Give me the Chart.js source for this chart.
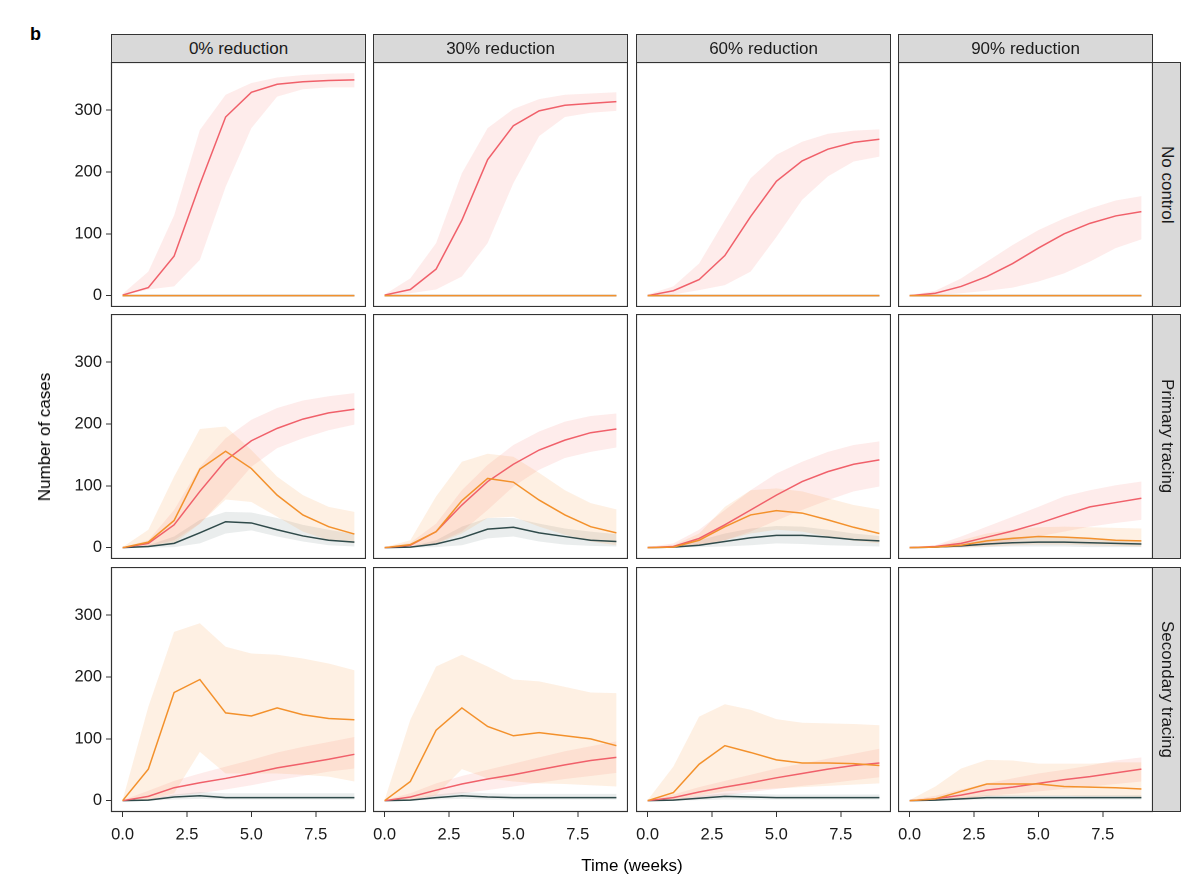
<!DOCTYPE html>
<html>
<head>
<meta charset="utf-8">
<script src="https://cdn.jsdelivr.net/npm/chart.js@4.4.1/dist/chart.umd.min.js"></script>
<style>
  body { margin: 0; background: #fff; font-family: "Liberation Sans", Arial, sans-serif; }
  #fig { position: relative; width: 1200px; height: 896px; overflow: hidden; }
  #fig canvas { position: absolute; }
  .strip { position: absolute; background: #d9d9d9; border: 1px solid #333; box-sizing: border-box;
           color: #1a1a1a; font-size: 17px; display: flex; align-items: center; justify-content: center; }
  .strip.side span { writing-mode: vertical-rl; }
  .lbl { position: absolute; color: #000; font-size: 17px; white-space: nowrap; }
</style>
</head>
<body>
<div id="fig"></div>
<script>
// facets
const colNames = ['0% reduction', '30% reduction', '60% reduction', '90% reduction']
const rowNames = ['No control', 'Primary tracing', 'Secondary tracing']
const weeks = [0, 1, 2, 3, 4, 5, 6, 7, 8, 9]
const xTicks = [0, 2.5, 5, 7.5]
const yTicks = [0, 100, 200, 300]
const flat = [0, 0, 0, 0, 0, 0, 0, 0, 0, 0]

// one list per panel, row by row (No control, Primary, Secondary) x (0, 30, 60, 90 %)
const redMid = [
  [1, 13, 64, 180, 289, 329, 342, 346, 348, 349],
  [1, 10, 43, 122, 220, 275, 299, 308, 311, 314],
  [0, 8, 26, 65, 128, 185, 218, 237, 248, 253],
  [0, 4, 15, 31, 52, 77, 100, 117, 129, 136],
  [0, 7, 37, 91, 141, 173, 193, 208, 218, 224],
  [0, 4, 26, 69, 107, 135, 158, 174, 186, 192],
  [0, 2, 15, 37, 61, 85, 107, 123, 135, 142],
  [0, 2, 7, 17, 27, 39, 53, 66, 73, 80],
  [0, 7, 21, 29, 36, 44, 53, 60, 67, 75],
  [0, 6, 17, 27, 35, 42, 50, 58, 65, 70],
  [0, 5, 14, 22, 29, 37, 44, 51, 57, 61],
  [0, 3, 9, 17, 22, 28, 34, 39, 45, 51]
]
const redHi = [
  [3, 39, 130, 268, 325, 344, 353, 357, 359, 360],
  [2, 28, 85, 198, 271, 302, 318, 325, 327, 329],
  [2, 15, 52, 122, 190, 228, 249, 262, 267, 269],
  [1, 8, 28, 55, 82, 106, 125, 141, 154, 161],
  [1, 12, 61, 131, 177, 207, 226, 238, 245, 250],
  [1, 8, 39, 93, 134, 166, 188, 204, 213, 217],
  [1, 7, 29, 61, 93, 120, 139, 155, 166, 172],
  [1, 4, 18, 34, 50, 66, 83, 93, 101, 107],
  [1, 16, 32, 44, 55, 66, 78, 87, 95, 103],
  [1, 12, 28, 40, 50, 60, 70, 80, 88, 96],
  [1, 10, 22, 32, 42, 52, 60, 68, 76, 84],
  [1, 8, 18, 28, 36, 44, 50, 57, 65, 70]
]
const redLo = [
  [0, 10, 15, 58, 176, 271, 322, 334, 337, 337],
  [0, 4, 10, 31, 85, 182, 258, 289, 296, 299],
  [0, 2, 9, 17, 39, 95, 155, 193, 217, 225],
  [0, 1, 4, 8, 13, 23, 36, 55, 77, 91],
  [0, 2, 12, 39, 83, 131, 161, 177, 190, 199],
  [0, 1, 7, 26, 61, 99, 126, 145, 155, 162],
  [0, 0, 4, 12, 26, 44, 61, 77, 91, 99],
  [0, 0, 1, 4, 10, 18, 26, 34, 40, 45],
  [0, 2, 8, 12, 18, 25, 33, 40, 47, 52],
  [0, 2, 7, 12, 17, 23, 29, 35, 40, 45],
  [0, 1, 5, 9, 14, 19, 24, 28, 33, 38],
  [0, 1, 4, 8, 11, 15, 19, 23, 27, 31]
]
const orgMid = [
  flat, flat, flat, flat,
  [0, 9, 44, 127, 156, 128, 85, 53, 34, 22],
  [0, 5, 26, 76, 112, 106, 77, 53, 34, 24],
  [0, 1, 12, 34, 53, 60, 56, 45, 33, 23],
  [0, 1, 4, 11, 15, 18, 17, 15, 12, 11],
  [0, 51, 175, 196, 142, 137, 150, 139, 133, 131],
  [0, 31, 114, 150, 120, 105, 110, 105, 100, 89],
  [0, 13, 59, 89, 78, 66, 61, 61, 60, 57],
  [0, 3, 15, 27, 27, 27, 23, 22, 21, 19]
]
const orgHi = [
  flat, flat, flat, flat,
  [1, 29, 115, 192, 196, 158, 115, 85, 66, 58],
  [1, 12, 83, 139, 152, 147, 121, 93, 72, 62],
  [1, 4, 23, 66, 93, 96, 91, 80, 69, 62],
  [0, 3, 12, 23, 29, 33, 34, 33, 32, 31],
  [1, 152, 273, 287, 249, 238, 236, 230, 222, 211],
  [1, 131, 217, 236, 217, 196, 193, 184, 175, 174],
  [1, 55, 136, 156, 147, 132, 126, 125, 124, 122],
  [1, 23, 52, 66, 65, 60, 60, 60, 62, 62]
]
const orgLo = [
  flat, flat, flat, flat,
  [0, 1, 7, 39, 78, 74, 50, 26, 12, 7],
  [0, 1, 6, 23, 48, 50, 34, 21, 10, 4],
  [0, 0, 3, 12, 23, 29, 26, 18, 11, 7],
  [0, 0, 1, 2, 4, 5, 5, 4, 3, 2],
  [0, 2, 12, 79, 44, 44, 44, 42, 39, 31],
  [0, 2, 9, 51, 36, 31, 28, 27, 25, 23],
  [0, 2, 8, 15, 18, 20, 22, 24, 26, 28],
  [0, 0, 3, 7, 8, 8, 8, 7, 7, 6]
]
const darkMid = [
  flat, flat, flat, flat,
  [0, 2, 7, 24, 42, 40, 29, 19, 12, 9],
  [0, 1, 6, 16, 30, 33, 24, 18, 12, 10],
  [0, 1, 4, 10, 16, 20, 20, 17, 13, 11],
  [0, 1, 3, 6, 8, 9, 9, 8, 7, 6],
  [0, 1, 6, 8, 5, 5, 5, 5, 5, 5],
  [0, 1, 5, 8, 6, 5, 5, 5, 5, 5],
  [0, 1, 4, 7, 6, 5, 5, 5, 5, 5],
  [0, 1, 3, 5, 5, 5, 5, 5, 5, 5]
]
const darkHi = [
  flat, flat, flat, flat,
  [0, 4, 18, 45, 58, 57, 48, 37, 29, 22],
  [0, 2, 12, 34, 48, 48, 39, 31, 26, 22],
  [0, 3, 12, 23, 31, 35, 34, 29, 23, 19],
  [0, 2, 7, 13, 17, 18, 17, 15, 13, 11],
  [0, 3, 10, 14, 12, 12, 12, 12, 12, 12],
  [0, 3, 10, 14, 12, 11, 11, 11, 11, 11],
  [0, 3, 8, 12, 11, 10, 10, 10, 10, 10],
  [0, 2, 6, 9, 9, 9, 9, 9, 9, 9]
]
const darkLo = [
  flat, flat, flat, flat,
  [0, 0, 1, 7, 23, 28, 18, 10, 4, 2],
  [0, 0, 1, 4, 15, 18, 10, 5, 3, 2],
  [0, 0, 1, 2, 4, 7, 6, 4, 3, 2],
  [0, 0, 0, 1, 2, 2, 2, 1, 1, 1],
  [0, 0, 2, 3, 2, 2, 2, 2, 2, 2],
  [0, 0, 2, 3, 2, 2, 2, 2, 2, 2],
  [0, 0, 1, 2, 2, 2, 2, 2, 2, 2],
  [0, 0, 1, 2, 2, 2, 2, 2, 2, 2]
]

// layout
const colLeft = [111, 373, 636, 898],
      rowTop = [62, 314, 567],
      panelW = 255,
      panelH = 245,
      axisW = 60,
      axisH = 50,
      fontFam = '"Liberation Sans", Arial, sans-serif',
      fig = document.getElementById('fig');

const red = '#f0606a', orange = '#f3912c', dark = '#2f4a4a'

const pts = (arr) => weeks.map((w, i) => ({ x: w, y: arr[i] }))

const band = (lo, hi, color, ord) => [
  { data: pts(lo), borderColor: 'rgba(0,0,0,0)', borderWidth: 0, fill: false, order: ord },
  { data: pts(hi), borderColor: 'rgba(0,0,0,0)', borderWidth: 0, backgroundColor: color, fill: '-1', order: ord }
]

const line = (mid, color, ord) => ({
  data: pts(mid), borderColor: color, borderWidth: 1.5, fill: false, order: ord
})

const panelBorder = {
  id: 'panelBorder',
  afterDatasetsDraw(chart) {
    const { ctx, chartArea: a } = chart
    ctx.save()
    ctx.strokeStyle = '#333'
    ctx.lineWidth = 1.2
    ctx.strokeRect(a.left + 0.5, a.top + 0.5, a.width - 1, a.height - 1)
    ctx.restore()
  }
}

const addDiv = (cls, text, css) => {
  const d = document.createElement('div')
  d.className = cls
  Object.assign(d.style, css)
  d.innerHTML = text
  fig.appendChild(d)
  return d
}

rowNames.forEach((rn, r) => {
  colNames.forEach((cn, c) => {
    const k = r * 4 + c,
          showY = c === 0,
          showX = r === 2,
          cv = document.createElement('canvas'),
          w = panelW + (showY ? axisW : 0),
          h = panelH + (showX ? axisH : 0);
    cv.width = w
    cv.height = h
    cv.style.left = (colLeft[c] - (showY ? axisW : 0)) + 'px'
    cv.style.top = rowTop[r] + 'px'
    cv.style.width = w + 'px'
    cv.style.height = h + 'px'
    fig.appendChild(cv)

    new Chart(cv.getContext('2d'), {
      type: 'line',
      data: {
        datasets: [
          ...band(darkLo[k], darkHi[k], 'rgba(47,79,79,0.10)', 6),
          ...band(redLo[k], redHi[k], 'rgba(246,110,104,0.13)', 5),
          ...band(orgLo[k], orgHi[k], 'rgba(245,150,60,0.14)', 4),
          line(darkMid[k], dark, 3),
          line(redMid[k], red, 2),
          line(orgMid[k], orange, 1)
        ]
      },
      options: {
        responsive: false,
        animation: false,
        events: [],
        devicePixelRatio: 2,
        layout: { padding: 0, autoPadding: false },
        elements: { point: { radius: 0, hoverRadius: 0 }, line: { tension: 0 } },
        plugins: { legend: { display: false }, tooltip: { enabled: false } },
        scales: {
          x: {
            type: 'linear', min: -0.45, max: 9.45, display: showX,
            afterBuildTicks: (s) => { s.ticks = xTicks.map(v => ({ value: v })) },
            afterFit: (s) => { if (showX) s.height = axisH; s.paddingLeft = 0; s.paddingRight = 0 },
            ticks: { callback: v => v.toFixed(1), color: '#1a1a1a', font: { family: fontFam, size: 16.5 },
                     padding: 8, maxRotation: 0, autoSkip: false },
            grid: { drawOnChartArea: false, drawTicks: true, tickLength: 5, color: '#333' },
            border: { display: false }
          },
          y: {
            type: 'linear', min: -18.3, max: 378, display: showY,
            afterBuildTicks: (s) => { s.ticks = yTicks.map(v => ({ value: v })) },
            afterFit: (s) => { if (showY) s.width = axisW; s.paddingTop = 0; s.paddingBottom = 0 },
            ticks: { color: '#1a1a1a', font: { family: fontFam, size: 16.5 }, padding: 4, autoSkip: false },
            grid: { drawOnChartArea: false, drawTicks: true, tickLength: 5, color: '#333' },
            border: { display: false }
          }
        }
      },
      plugins: [panelBorder]
    })
  })
})

// strips
colNames.forEach((cn, c) => {
  addDiv('strip', cn, { left: colLeft[c] + 'px', top: '34px', width: panelW + 'px', height: '29px' })
})
rowNames.forEach((rn, r) => {
  addDiv('strip side', '<span>' + rn + '</span>',
    { left: (colLeft[3] + panelW - 1) + 'px', top: rowTop[r] + 'px', width: '29px', height: panelH + 'px' })
})

// labels
addDiv('lbl', '<b>b</b>', { left: '30px', top: '24px', fontSize: '18px' })
addDiv('lbl', 'Time (weeks)', { left: '632px', top: '866px', transform: 'translate(-50%,-50%)' })
addDiv('lbl', 'Number of cases', { left: '45px', top: '437px', transform: 'translate(-50%,-50%) rotate(-90deg)' })
</script>
</body>
</html>
